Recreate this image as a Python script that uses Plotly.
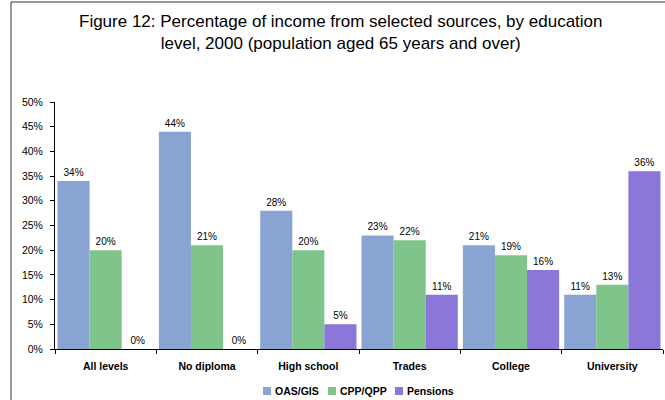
import plotly.graph_objects as go

categories = ["All levels", "No diploma", "High school", "Trades", "College", "University"]
oas_gis = [34, 44, 28, 23, 21, 11]
cpp_qpp = [20, 21, 20, 22, 19, 13]
pensions = [0, 0, 5, 11, 16, 36]
series_names = ["OAS/GIS", "CPP/QPP", "Pensions"]
colors = ["#89A4D3", "#7FC48A", "#8B76DA"]
y_ticks = [0, 5, 10, 15, 20, 25, 30, 35, 40, 45, 50]

FONT = "Arial, Liberation Sans"

fig = go.Figure()
for name, vals, col in zip(series_names, [oas_gis, cpp_qpp, pensions], colors):
    fig.add_trace(go.Bar(
        x=categories, y=vals, name=name,
        marker=dict(color=col, line=dict(width=0)),
        text=[f"{v}%" for v in vals], textposition="outside",
        textfont=dict(family=FONT, size=10, color="#000"),
        cliponaxis=False, showlegend=False,
    ))

W, H = 665, 400
l, r, t, b = 55, 2, 102, 51
pw, ph = W - l - r, H - t - b
def px(x): return (x - l) / pw
def py(y): return (H - b - y) / ph

shapes = [
    dict(type="line", xref="paper", yref="paper", x0=px(11), x1=px(11), y0=py(2), y1=py(400),
         line=dict(color="#333", width=1)),
    dict(type="line", xref="paper", yref="paper", x0=px(11), x1=px(665), y0=py(2), y1=py(2),
         line=dict(color="#333", width=1)),
]
annotations = [
    dict(text="Figure 12: Percentage of income from selected sources, by education<br>level, 2000 (population aged 65 years and over)",
         xref="paper", yref="paper", x=px(341), y=py(10), xanchor="center", yanchor="top",
         showarrow=False, align="center",
         font=dict(family=FONT, size=17, color="#000")),
]
# manual legend
leg_x = [263, 328, 395]
leg_y = 391
for name, col, lx in zip(series_names, colors, leg_x):
    shapes.append(dict(type="rect", xref="paper", yref="paper",
                       x0=px(lx), x1=px(lx + 8), y0=py(leg_y - 4), y1=py(leg_y + 4),
                       fillcolor=col, line=dict(width=0)))
    annotations.append(dict(text=f"<b>{name}</b>", xref="paper", yref="paper",
                            x=px(lx + 10), y=py(leg_y), xanchor="left", yanchor="middle",
                            showarrow=False,
                            font=dict(family=FONT, size=10.5, color="#000")))

fig.update_layout(
    width=W, height=H,
    margin=dict(l=l, r=r, t=t, b=b, autoexpand=False),
    paper_bgcolor="white", plot_bgcolor="white",
    barmode="group", bargap=0.05, bargroupgap=0,
    font=dict(family=FONT, size=10, color="#000"),
    xaxis=dict(
        showline=True, linecolor="#000", linewidth=1,
        ticks="outside", ticklen=4, tickcolor="#000", tickson="boundaries",
        tickfont=dict(family=FONT, size=10.5, color="#000", weight="bold"),
        ticklabelstandoff=7,
        showgrid=False,
    ),
    yaxis=dict(
        range=[0, 50], tickvals=y_ticks, ticktext=[f"{v}%" for v in y_ticks],
        showline=True, linecolor="#000", linewidth=1,
        ticks="outside", ticklen=4, tickcolor="#000",
        ticklabelstandoff=5,
        showgrid=False, zeroline=False,
        tickfont=dict(family=FONT, size=10.5, color="#000"),
    ),
    showlegend=False,
    shapes=shapes,
    annotations=annotations,
)

fig.write_html("out.html")
